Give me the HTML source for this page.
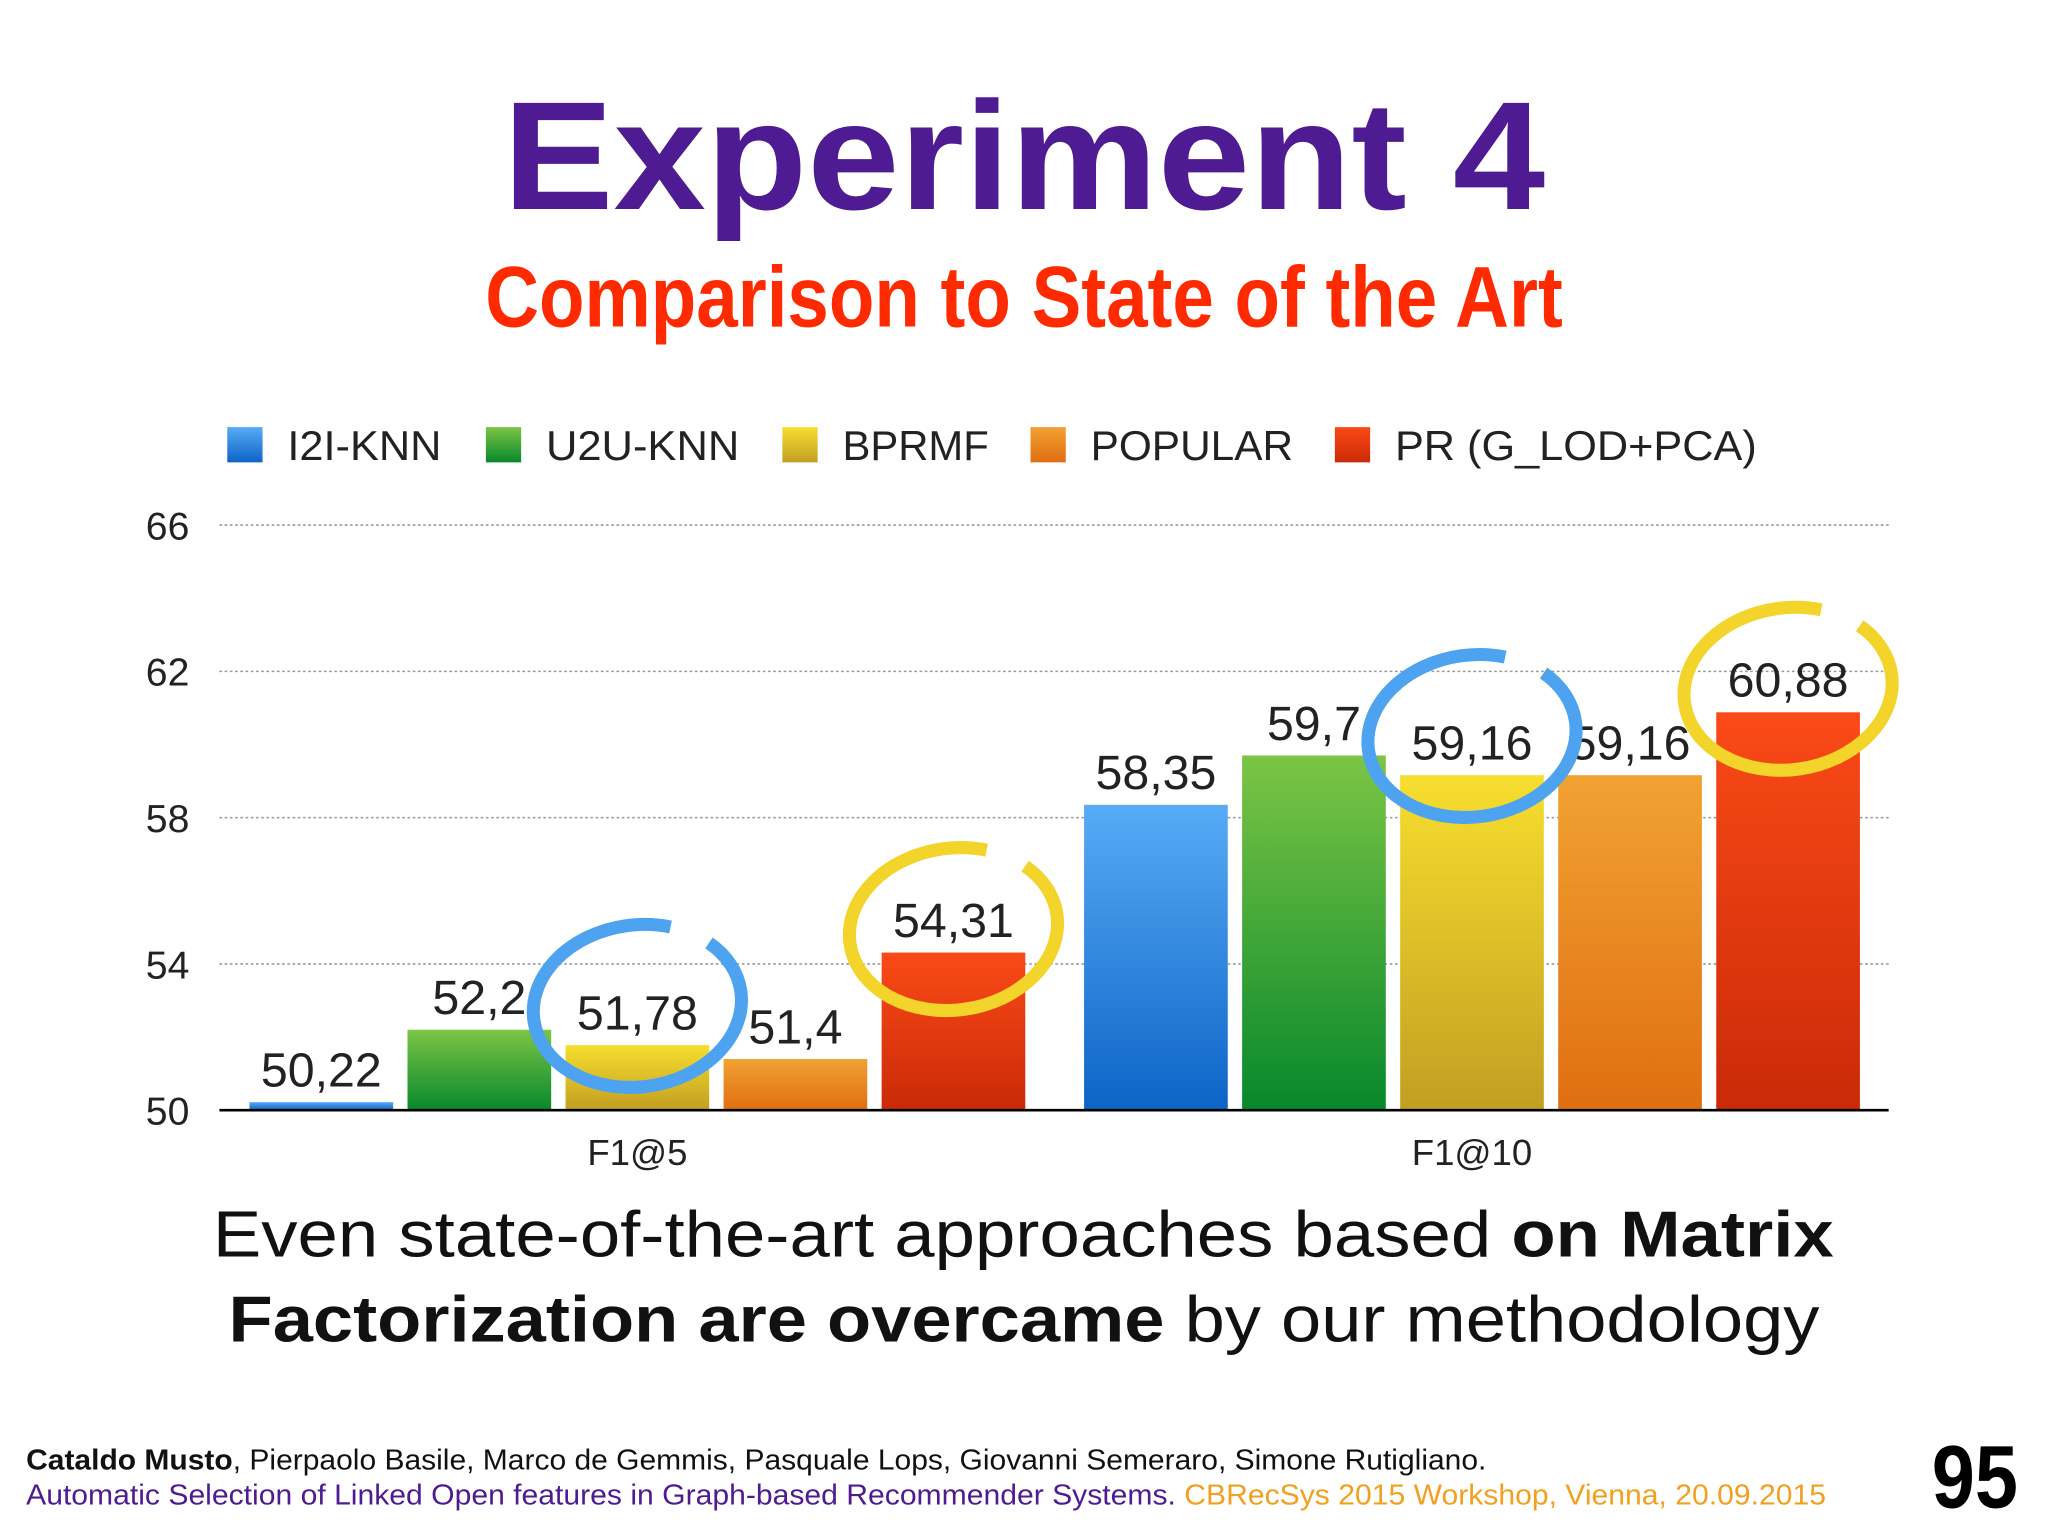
<!DOCTYPE html>
<html><head><meta charset="utf-8"><style>
html,body{margin:0;padding:0;background:#fff;}
svg{display:block;}
</style></head><body>
<svg id="chart" width="2048" height="1536" viewBox="0 0 1568 1176" xmlns="http://www.w3.org/2000/svg" font-family="Liberation Sans, sans-serif">
<defs>
<linearGradient id="g0" x1="0" y1="0" x2="0" y2="1"><stop offset="0" stop-color="#58ABF6"/><stop offset="1" stop-color="#0C64C6"/></linearGradient>
<linearGradient id="g1" x1="0" y1="0" x2="0" y2="1"><stop offset="0" stop-color="#7CC545"/><stop offset="1" stop-color="#07882C"/></linearGradient>
<linearGradient id="g2" x1="0" y1="0" x2="0" y2="1"><stop offset="0" stop-color="#F7DE2E"/><stop offset="1" stop-color="#C29F22"/></linearGradient>
<linearGradient id="g3" x1="0" y1="0" x2="0" y2="1"><stop offset="0" stop-color="#F1A232"/><stop offset="1" stop-color="#E06E12"/></linearGradient>
<linearGradient id="g4" x1="0" y1="0" x2="0" y2="1"><stop offset="0" stop-color="#FA4A17"/><stop offset="1" stop-color="#CA2A08"/></linearGradient>
</defs>
<text x="784" y="160" text-anchor="middle" font-size="118" font-weight="bold" fill="#4F1B92" textLength="798" lengthAdjust="spacingAndGlyphs">Experiment 4</text>
<text x="784" y="250" text-anchor="middle" font-size="66" font-weight="bold" fill="#FF2A00" textLength="825" lengthAdjust="spacingAndGlyphs">Comparison to State of the Art</text>
<g id="legend"></g>
<g id="grid"></g>
<g id="bars"></g>
<g id="circles"></g>
<text x="163" y="962" font-size="50" fill="#111" textLength="1241" lengthAdjust="spacingAndGlyphs">Even state-of-the-art approaches based <tspan font-weight="bold">on Matrix</tspan></text>
<text x="175" y="1027" font-size="50" fill="#111" textLength="1218" lengthAdjust="spacingAndGlyphs"><tspan font-weight="bold">Factorization are overcame</tspan> by our methodology</text>
<text x="20" y="1125" font-size="22" fill="#111" textLength="1118" lengthAdjust="spacingAndGlyphs"><tspan font-weight="bold">Cataldo Musto</tspan>, Pierpaolo Basile, Marco de Gemmis, Pasquale Lops, Giovanni Semeraro, Simone Rutigliano.</text>
<text x="20" y="1152" font-size="22" fill="#4F1B92" textLength="1378" lengthAdjust="spacingAndGlyphs">Automatic Selection of Linked Open features in Graph-based Recommender Systems. <tspan fill="#F2A020">CBRecSys 2015 Workshop, Vienna, 20.09.2015</tspan></text>
<text x="1512" y="1154" text-anchor="middle" font-size="68" font-weight="bold" fill="#000" textLength="66" lengthAdjust="spacingAndGlyphs">95</text>
</svg>
<script>
const categories = ["F1@5", "F1@10"];
const seriesNames = ["I2I-KNN", "U2U-KNN", "BPRMF", "POPULAR", "PR (G_LOD+PCA)"];
const valuesF5 = [50.22, 52.2, 51.78, 51.4, 54.31];
const valuesF10 = [58.35, 59.7, 59.16, 59.16, 60.88];
const valueLabelsF5 = ["50,22", "52,2", "51,78", "51,4", "54,31"];
const valueLabelsF10 = ["58,35", "59,7", "59,16", "59,16", "60,88"];
const yTicks = [50, 54, 58, 62, 66];
const highlights = [[0,2,"#4EA3F0"],[0,4,"#F2D42A"],[1,2,"#4EA3F0"],[1,4,"#F2D42A"]];

const NS = "http://www.w3.org/2000/svg";
const X0 = 168, X1 = 1446, Y0 = 850, Y1 = 402;
const yScale = v => Y0 - (v - 50) / (66 - 50) * (Y0 - Y1);
const groupStart = [191, 830], barStep = 121, barW = 110;
const xBar = (g, i) => groupStart[g] + i * barStep;
function mk(tag, attrs, parent) { const e = document.createElementNS(NS, tag); for (const k in attrs) e.setAttribute(k, attrs[k]); parent.appendChild(e); return e; }

const grid = document.getElementById("grid");
yTicks.forEach(t => {
  const y = yScale(t);
  if (t !== 50) {
    const l = mk("line", {x1: X0, x2: X1, y1: y, y2: y, stroke: "#999", "stroke-width": 1.2, "stroke-dasharray": "2 2"}, grid);
    
    
  }
  const tx = mk("text", {x: 145, y: y + 11, "text-anchor": "end", "font-size": 30, fill: "#222"}, grid);
  tx.textContent = String(t);
  
  
});

const legend = document.getElementById("legend");
const legX = [174, 372, 599, 789, 1022];
const legW = [118, 148, 112, 155, 277];
seriesNames.forEach((n, i) => {
  const r = mk("rect", {x: legX[i], y: 327, width: 27, height: 27, fill: "url(#g" + i + ")"}, legend);
  
  
  const t = mk("text", {x: legX[i] + 46, y: 352, "font-size": 32, fill: "#222", textLength: legW[i], lengthAdjust: "spacingAndGlyphs"}, legend);
  t.textContent = n;
  
  
});

const bars = document.getElementById("bars");
[valuesF5, valuesF10].forEach((vals, g) => {
  const labs = g === 0 ? valueLabelsF5 : valueLabelsF10;
  vals.forEach((v, i) => {
    const x = xBar(g, i), y = yScale(v);
    const r = mk("rect", {x: x, y: y, width: barW, height: Y0 - y, fill: "url(#g" + i + ")"}, bars);
    
    
    const t = mk("text", {x: x + barW / 2, y: y - 12, "text-anchor": "middle", "font-size": 37, fill: "#222"}, bars);
    t.textContent = labs[i];
    
    
  });
  const c = mk("text", {x: groupStart[g] + 2 * barStep + barW / 2, y: 892, "text-anchor": "middle", "font-size": 28, fill: "#222"}, bars);
  c.textContent = categories[g];
  
  
});
const ax = mk("line", {x1: X0, x2: X1, y1: Y0, y2: Y0, stroke: "#000", "stroke-width": 2}, bars);



const circles = document.getElementById("circles");
highlights.forEach(([g, i, col]) => {
  const v = (g === 0 ? valuesF5 : valuesF10)[i];
  const off = col === "#4EA3F0" ? 30 : 18;
  const cx = xBar(g, i) + barW / 2, cy = yScale(v) - off;
  const e = mk("ellipse", {cx: cx, cy: cy, rx: 80, ry: 62, fill: "none", stroke: col, "stroke-width": 10, "stroke-dasharray": "370 32 200", transform: "rotate(-8 " + cx + " " + cy + ")"}, circles);
  
  
});
</script>
</body></html>
